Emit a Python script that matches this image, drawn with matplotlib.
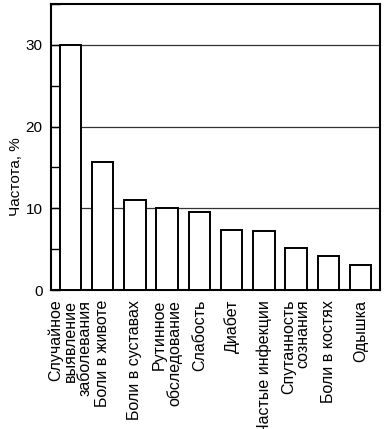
import numpy as np
import matplotlib
matplotlib.use('Agg')
import matplotlib.pyplot as plt
from matplotlib.ticker import MultipleLocator

plt.rcParams['font.family'] = ['Liberation Sans', 'DejaVu Sans']

# data
categories = ['Случайное\nвыявление\nзаболевания', 'Боли в животе', 'Боли в суставах',
              'Рутинное\nобследование', 'Слабость', 'Диабет', 'Частые инфекции',
              'Спутанность\nсознания', 'Боли в костях', 'Одышка']
values = [30, 15.7, 11.0, 10.0, 9.6, 7.4, 7.2, 5.2, 4.2, 3.1]
yticks = [0, 10, 20, 30]

W, H = 385, 429
fig = plt.figure(figsize=(W/100, H/100), dpi=100)
ax = fig.add_axes([51/W, 1-290/H, (380-51)/W, (290-4)/H])

x = np.arange(len(values))
ax.set_axisbelow(True)
ax.yaxis.grid(True, color='#333333', lw=0.9)
ax.bar(x, values, width=0.66, color='white', edgecolor='black', lw=1.4, zorder=3)

ax.set_xlim(-0.6, len(values)-0.4)
ax.set_ylim(0, 35)
ax.set_yticks(yticks)
ax.yaxis.set_minor_locator(MultipleLocator(5))
ax.tick_params(axis='y', which='both', direction='in', length=6.5, width=1, labelsize=11, pad=6)
ax.set_xticks(x)
ax.set_xticklabels(categories, rotation=90, ha='center', va='top', multialignment='right',
                   fontsize=11.5, linespacing=0.95)
ax.tick_params(axis='x', length=0, pad=7)
for s in ax.spines.values():
    s.set_linewidth(1.5)

fig.text(16/W, 1-177/H, 'Частота, %', rotation=90, ha='center', va='center', fontsize=11)

fig.savefig('out.png', dpi=100)
